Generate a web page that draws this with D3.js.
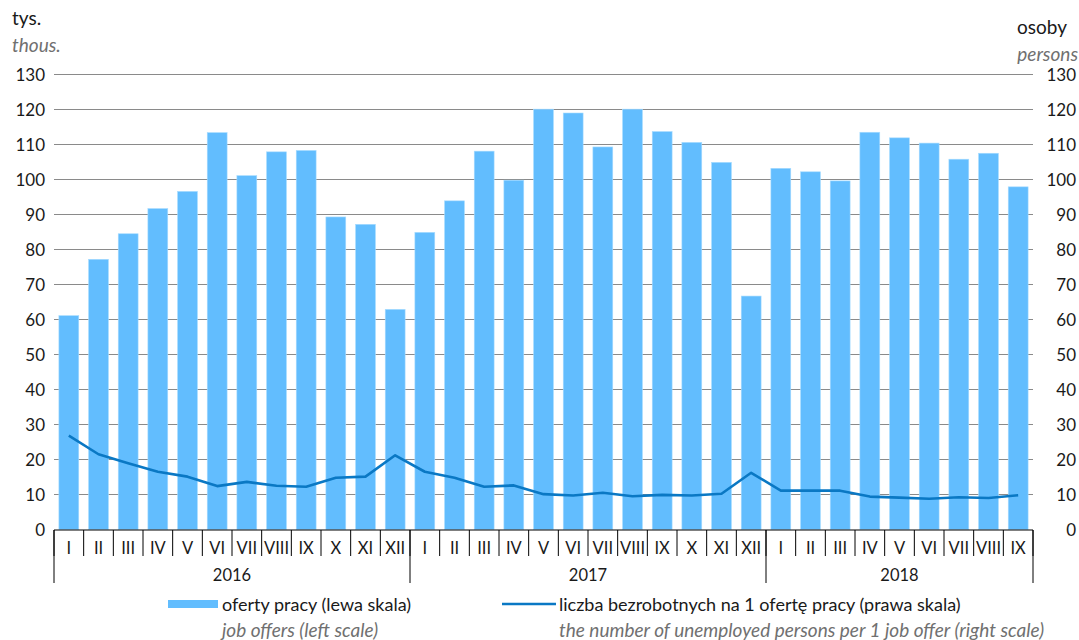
<!DOCTYPE html>
<html><head><meta charset="utf-8">
<script src="https://cdn.jsdelivr.net/npm/d3@7"></script>
<style>
body{margin:0;background:#fff;}
text{font-family:Lato,"Open Sans",sans-serif;}
</style></head>
<body><svg id="c" width="1079" height="640"></svg>
<script>
const years = ["2016","2017","2018"];
const monthsPerYear = [12,12,9];
const monthLabels = ["I","II","III","IV","V","VI","VII","VIII","IX","X","XI","XII"];
const jobOffers = [61.1,77.2,84.5,91.7,96.6,113.4,101.1,107.9,108.3,89.3,87.2,62.9,
  84.9,93.9,108.1,99.8,120.1,119.0,109.3,120.1,113.7,110.6,104.9,66.7,
  103.2,102.2,99.6,113.5,111.9,110.4,105.8,107.5,97.9];
const unemployedPerOffer = [26.8,21.5,18.9,16.5,15.1,12.4,13.6,12.5,12.2,14.8,15.1,21.2,
  16.5,14.8,12.2,12.6,10.1,9.7,10.5,9.5,9.9,9.7,10.2,16.2,
  11.1,11.1,11.1,9.4,9.1,8.8,9.2,9.0,9.8];
const yTicks = [0,10,20,30,40,50,60,70,80,90,100,110,120,130];

const periods = [];
years.forEach((y,i)=>{for(let m=0;m<monthsPerYear[i];m++) periods.push({year:y,month:monthLabels[m],key:y+"-"+m});});
periods.forEach((p,i)=>{p.offers=jobOffers[i];p.ratio=unemployedPerOffer[i];});

const svg = d3.select("#c");
const x0=54, x1=1033, yBase=529.5, yTop=74.5;
const x = d3.scaleBand().domain(periods.map(p=>p.key)).range([x0,x1]).paddingInner(0.33).paddingOuter(0.165);
const yL = d3.scaleLinear().domain([0,130]).range([yBase,yTop]);
const yR = d3.scaleLinear().domain([0,130]).range([yBase,yTop]);

// gridlines
svg.append("g").selectAll("line").data(yTicks.filter(d=>d>0)).join("line")
  .attr("x1",x0).attr("x2",x1).attr("y1",d=>yL(d)).attr("y2",d=>yL(d))
  .attr("stroke","#8a8a8a").attr("stroke-width",1.2);

// left axis labels
svg.append("g").selectAll("text").data(yTicks).join("text")
  .attr("x",45).attr("y",d=>yL(d)).attr("dy","0.36em").attr("text-anchor","end")
  .attr("font-size",17).attr("fill","#1a1a1a").text(d=>d);
// right axis labels
svg.append("g").selectAll("text").data(yTicks).join("text")
  .attr("x",1076).attr("y",d=>yR(d)).attr("dy","0.36em").attr("text-anchor","end")
  .attr("font-size",17).attr("fill","#1a1a1a").text(d=>d);

// bars
svg.append("g").selectAll("rect").data(periods).join("rect")
  .attr("x",d=>x(d.key)).attr("width",x.bandwidth())
  .attr("y",d=>yL(d.offers)).attr("height",d=>yBase-yL(d.offers))
  .attr("fill","#62bdfe").attr("stroke","#a8dcff").attr("stroke-width",0.6);

// line
const line = d3.line().x(d=>x(d.key)+x.bandwidth()/2).y(d=>yR(d.ratio));
svg.append("path").datum(periods).attr("d",line).attr("fill","none")
  .attr("stroke","#0a78c4").attr("stroke-width",2.6).attr("stroke-linejoin","round");

// x axis
const step = x.step();
const ax = svg.append("g");
ax.append("line").attr("x1",x0).attr("x2",x1).attr("y1",530).attr("y2",530).attr("stroke","#000").attr("stroke-width",1.2);
for(let i=0;i<=periods.length;i++){
  const xx = x0 + i*step;
  ax.append("line").attr("x1",xx).attr("x2",xx).attr("y1",530).attr("y2",556).attr("stroke","#000").attr("stroke-width",1);
}
ax.selectAll("text.m").data(periods).join("text").attr("class","m")
  .attr("x",d=>x(d.key)+x.bandwidth()/2).attr("y",554).attr("text-anchor","middle")
  .attr("font-size",16.5).attr("fill","#1a1a1a").text(d=>d.month);
let start=0;
years.forEach((y,i)=>{
  const xs = x0+start*step, xe = x0+(start+monthsPerYear[i])*step;
  ax.append("line").attr("x1",xs).attr("x2",xs).attr("y1",530).attr("y2",583).attr("stroke","#000").attr("stroke-width",1);
  ax.append("text").attr("x",(xs+xe)/2).attr("y",581).attr("text-anchor","middle").attr("font-size",16.5).attr("fill","#1a1a1a").text(y);
  start+=monthsPerYear[i];
});
ax.append("line").attr("x1",x1).attr("x2",x1).attr("y1",530).attr("y2",583).attr("stroke","#000").attr("stroke-width",1);

// unit labels
svg.append("text").attr("x",12).attr("y",25).attr("font-size",19).attr("fill","#1a1a1a").text("tys.");
svg.append("text").attr("x",12).attr("y",52).attr("font-size",19).attr("font-style","italic").attr("fill","#707070").text("thous.");
svg.append("text").attr("x",1067).attr("y",34).attr("text-anchor","end").attr("font-size",19).attr("fill","#1a1a1a").text("osoby");
svg.append("text").attr("x",1078).attr("y",61).attr("text-anchor","end").attr("font-size",19).attr("font-style","italic").attr("fill","#707070").text("persons");

// legend
const lg = svg.append("g");
lg.append("rect").attr("x",168).attr("y",600).attr("width",50).attr("height",8).attr("fill","#62bdfe");
lg.append("text").attr("x",222).attr("y",611).attr("font-size",18).attr("fill","#1a1a1a").text("oferty pracy (lewa skala)");
lg.append("text").attr("x",222).attr("y",637).attr("font-size",19).attr("font-style","italic").attr("fill","#707070").text("job offers (left scale)");
lg.append("line").attr("x1",502).attr("x2",556).attr("y1",604).attr("y2",604).attr("stroke","#0a78c4").attr("stroke-width",2.6);
lg.append("text").attr("x",559).attr("y",611).attr("font-size",18).attr("fill","#1a1a1a").text("liczba bezrobotnych na 1 ofertę pracy (prawa skala)");
lg.append("text").attr("x",559).attr("y",637).attr("font-size",19).attr("font-style","italic").attr("fill","#707070").text("the number of unemployed persons per 1 job offer (right scale)");
</script></body></html>
